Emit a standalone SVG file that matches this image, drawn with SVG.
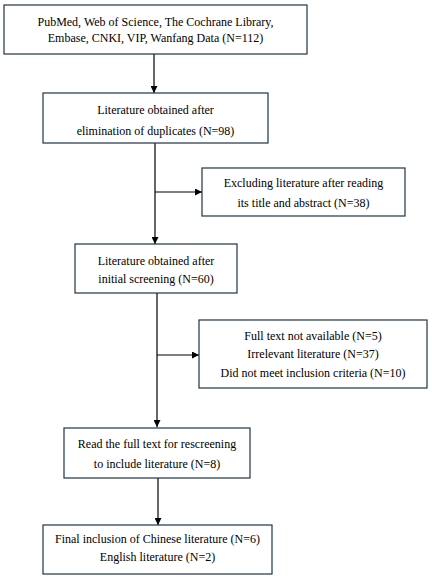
<svg xmlns="http://www.w3.org/2000/svg" width="432" height="579" viewBox="0 0 432 579">
<defs>
<style>
.box{fill:#fff;stroke:#1f3345;stroke-width:1.2}
.t{font-family:"Liberation Serif","Times New Roman",serif;font-size:12px;fill:#000;text-anchor:middle}
.c{stroke:#000;stroke-width:1.2;fill:none}
</style>
<marker id="ah" viewBox="0 0 8 8" refX="8" refY="4" markerWidth="7" markerHeight="7" markerUnits="userSpaceOnUse" orient="auto">
<path d="M0,0 L8,4 L0,8 z" fill="#000"/>
</marker>
</defs>
<rect width="432" height="579" fill="#fff"/>
<g id="connectors">
<line class="c" x1="154" y1="54" x2="154" y2="93" marker-end="url(#ah)"/>
<line class="c" x1="155" y1="143" x2="155" y2="244" marker-end="url(#ah)"/>
<line class="c" x1="155" y1="192" x2="202" y2="192" marker-end="url(#ah)"/>
<line class="c" x1="157" y1="293" x2="157" y2="427" marker-end="url(#ah)"/>
<line class="c" x1="157" y1="355" x2="199" y2="355" marker-end="url(#ah)"/>
<line class="c" x1="158" y1="478" x2="158" y2="525" marker-end="url(#ah)"/>
</g>
<g id="n1">
<rect class="box" x="4" y="5" width="303" height="49"/>
<text class="t" x="155.5" y="26">PubMed, Web of Science, The Cochrane Library,</text>
<text class="t" x="155.5" y="42">Embase, CNKI, VIP, Wanfang Data (N=112)</text>
</g>
<g id="n2">
<rect class="box" x="43" y="93" width="225" height="50"/>
<text class="t" x="155.5" y="114">Literature obtained after</text>
<text class="t" x="155.5" y="135">elimination of duplicates (N=98)</text>
</g>
<g id="n3">
<rect class="box" x="202" y="168" width="203" height="48"/>
<text class="t" x="303.5" y="187">Excluding literature after reading</text>
<text class="t" x="303.5" y="207">its title and abstract (N=38)</text>
</g>
<g id="n4">
<rect class="box" x="75" y="244" width="162" height="49"/>
<text class="t" x="156" y="265">Literature obtained after</text>
<text class="t" x="156" y="283">initial screening (N=60)</text>
</g>
<g id="n5">
<rect class="box" x="199" y="320" width="228" height="68"/>
<text class="t" x="313" y="340">Full text not available  (N=5)</text>
<text class="t" x="313" y="358">Irrelevant literature  (N=37)</text>
<text class="t" x="313" y="377">Did not meet inclusion criteria (N=10)</text>
</g>
<g id="n6">
<rect class="box" x="64" y="428" width="186" height="50"/>
<text class="t" x="157" y="448">Read the full text for rescreening</text>
<text class="t" x="157" y="468">to include literature  (N=8)</text>
</g>
<g id="n7">
<rect class="box" x="43" y="525" width="229" height="49"/>
<text class="t" x="157.5" y="543">Final inclusion of Chinese literature (N=6)</text>
<text class="t" x="157.5" y="561">English literature (N=2)</text>
</g>
</svg>
